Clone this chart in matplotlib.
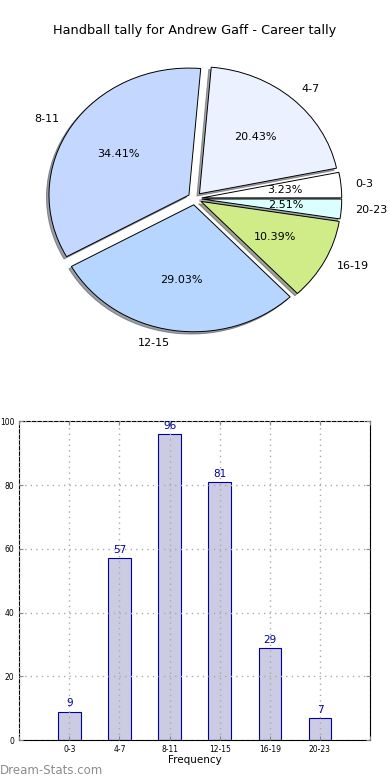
import numpy as np
import matplotlib
matplotlib.use('Agg')
import matplotlib.pyplot as plt

categories = ['0-3', '4-7', '8-11', '12-15', '16-19', '20-23']
counts = [9, 57, 96, 81, 29, 7]
slice_colors = ['#ffffff', '#ebf1ff', '#c4d8ff', '#b6d6ff', '#d0ec88', '#dbffff']

fig = plt.figure(figsize=(3.9, 7.8), dpi=100)

# pie on top
ax1 = fig.add_axes([0.051, 0.542, 0.897, 0.407])
wedges, texts, autotexts = ax1.pie(counts, labels=categories, colors=slice_colors,
                                   explode=[0.05]*len(counts),
                                   shadow={'ox': -0.013, 'oy': -0.013},
                                   autopct='%1.2f%%', startangle=0,
                                   wedgeprops=dict(edgecolor='black', linewidth=0.7),
                                   textprops=dict(fontsize=8))
ax1.set_aspect('auto')
ax1.set_xlim(-1.25, 1.25)
ax1.set_ylim(-1.25, 1.25)
fig.text(0.5, 0.961, 'Handball tally for Andrew Gaff - Career tally',
         ha='center', va='center', fontsize=9.3)

# bar chart below
ax2 = fig.add_axes([0.049, 0.051, 0.9, 0.409])
x = np.arange(len(categories))
bars = ax2.bar(x, counts, width=0.45, color='#cbcbe3', edgecolor='#000099', linewidth=0.8)
for xi, v in zip(x, counts):
    ax2.text(xi, v + 1, str(v), ha='center', va='bottom', fontsize=7.5, color='#000099')
ax2.set_xlim(-1, 6)
ax2.set_ylim(0, 100)
ax2.set_xticks(range(-1, 7))
ax2.set_xticklabels([''] + categories + [''])
ax2.set_yticks(range(0, 101, 20))
ax2.tick_params(labelsize=5.5, direction='in', top=True, right=True, length=3, color='#888888')
ax2.grid(True, linestyle=(0, (1, 3)), color='#aaaaaa', linewidth=1.0)
ax2.set_axisbelow(False)
ax2.set_xlabel('Frequency', fontsize=7.5, labelpad=1)

fig.text(0.0, 0.012, 'Dream-Stats.com', fontsize=8.5, color='#8c8c8c', ha='left', va='center')

fig.savefig('out.png', dpi=100)
